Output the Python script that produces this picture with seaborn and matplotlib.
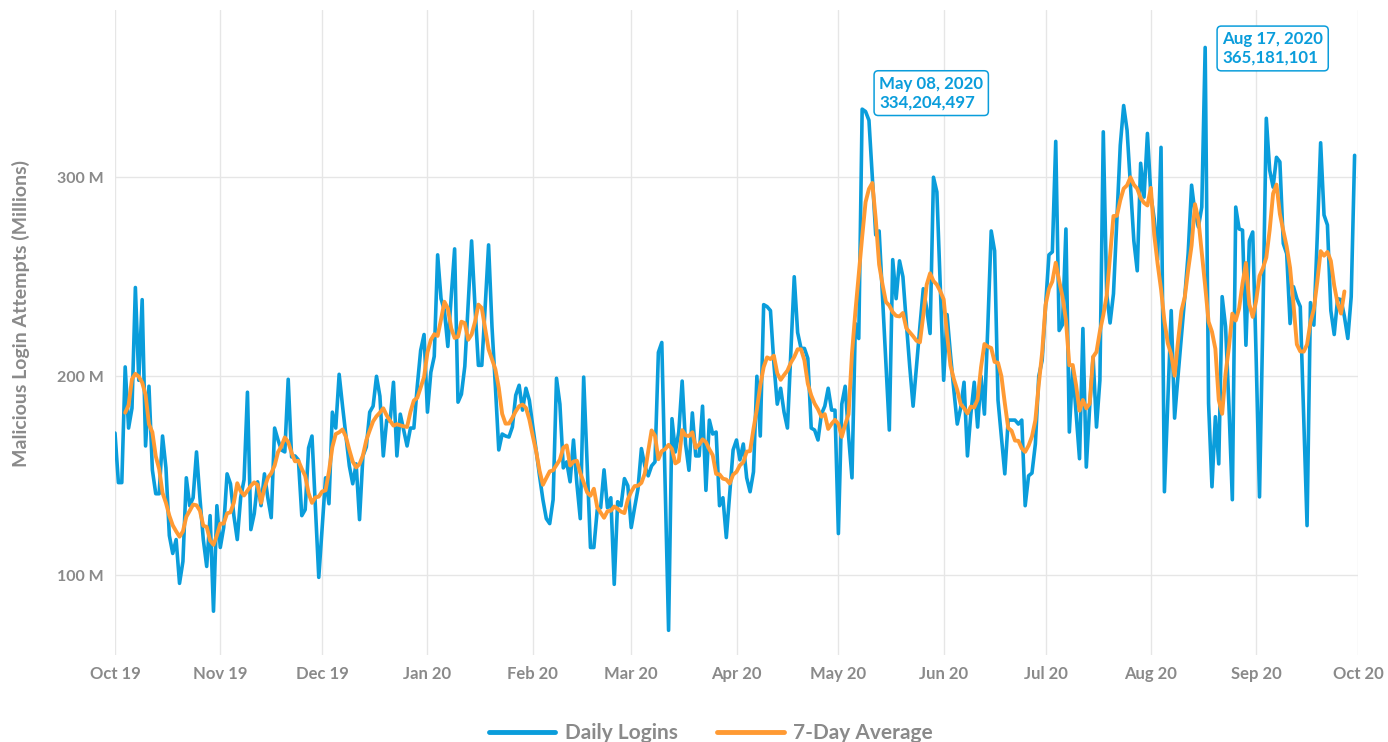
import matplotlib
matplotlib.use("Agg")
import matplotlib.pyplot as plt
import matplotlib.dates as mdates
import seaborn as sns
import pandas as pd
import numpy as np

# ---------------- data (millions of malicious login attempts per day) ----------------
start_date = "2019-10-01"
daily_logins = [
    171.5, 146.6, 146.6, 204.7, 174, 184, 244.6, 198, 238.5, 165,
    195, 153, 141, 141, 170, 154, 120, 111, 118, 96,
    107, 149, 135, 139, 162, 139, 118, 104.5, 130, 82,
    135, 114, 124, 151, 146, 130, 118, 139, 148, 192,
    123, 131, 147, 135, 151, 139, 129, 174, 168, 163,
    162, 198.5, 159.5, 160, 158, 130, 133, 164, 170, 135,
    99, 124, 149, 136, 182, 174, 201, 185, 170, 155,
    146, 156, 128, 160, 164.5, 182, 185, 200, 190, 160,
    178, 177.5, 197, 160, 181, 173, 165, 174, 174, 195,
    213, 221, 182, 202, 210, 261, 239, 233, 215, 240,
    264, 187, 191, 205, 237, 268, 235, 205.5, 205.5, 235,
    266, 225, 195, 163, 171, 170, 169.5, 174.5, 190.5, 195.5,
    183, 194, 188, 175, 163, 150, 138, 128.5, 126, 138,
    199, 186, 154, 157, 147, 168, 146, 128.5, 199.6, 157,
    114, 114, 133, 134, 153, 134, 139, 95.5, 137, 135,
    148.6, 145, 124, 134, 143.6, 163.7, 155, 150, 155, 157,
    212, 217, 145, 72.4, 178.7, 162, 172, 197.6, 166, 152.8,
    181.6, 160, 160, 185, 142.7, 178, 171, 172, 135, 139,
    119, 141, 163, 168, 158, 166, 149, 142, 152, 200,
    170, 236, 235, 233, 206.5, 186, 194, 182, 174, 212,
    250, 222, 214, 214, 209, 174, 173, 168, 181, 185,
    194, 183, 183, 121, 186, 195, 170, 149, 226.5, 219,
    334.204497, 333, 328.6, 300, 271, 273, 240, 207, 173, 258.6,
    239, 258, 250, 227, 205, 185, 205, 225, 244, 234,
    221.5, 300, 292.6, 245, 198, 231, 211, 193, 176, 184,
    197, 160, 181, 197, 174.5, 200, 181, 225, 273, 263,
    188, 169.5, 151, 178, 178, 178, 176, 178, 135, 150,
    151.4, 166, 200, 208, 235, 261, 262.5, 318, 223, 226,
    274, 172, 204, 181, 158.6, 224, 154.4, 185, 209.7, 174.5,
    198, 322.8, 241.5, 226.8, 241.5, 279, 316, 336, 323.6, 296,
    268, 253, 307, 290, 322, 291, 279, 258.6, 315, 142,
    188, 233, 179, 200, 220, 240, 262, 296, 282, 275,
    285, 365.181101, 186.4, 144.5, 179.7, 156, 240, 225, 185, 138,
    285, 274, 273.4, 215.6, 268, 272.5, 210, 139.4, 230, 329.6,
    303.5, 295, 310, 307.7, 266.7, 261.6, 226.5, 245, 239, 235,
    180, 125, 237, 225.7, 270, 317.3, 281, 276, 233, 221,
    239, 238.5, 230, 219, 240, 311,
]
window_days = 7
series_names = ["Daily Logins", "7-Day Average"]
annotated_dates = ["2020-05-08", "2020-08-17"]
y_ticks = [100, 200, 300]
y_label = "Malicious Login Attempts (Millions)"

# ---------------- build table ----------------
dates = pd.date_range(start_date, periods=len(daily_logins), freq="D")
df = pd.DataFrame({"date": dates, "daily": daily_logins})
df["avg"] = df["daily"].rolling(window_days, center=True).mean()

# ---------------- styling ----------------
sns.set_theme(style="white")
plt.rcParams["font.family"] = ["Lato", "DejaVu Sans"]

BLUE = "#0a9ddb"
ORANGE = "#ff9a33"
GREY = "#8a8a8a"
GRID = "#e6e6e6"

fig = plt.figure(figsize=(13.88, 7.42), dpi=100)
ax = fig.add_axes([115 / 1388, 87 / 742, 1243 / 1388, 645 / 742])

sns.lineplot(data=df, x="date", y="daily", ax=ax, color=BLUE, linewidth=2.6,
             label=series_names[0], zorder=3)
sns.lineplot(data=df.dropna(), x="date", y="avg", ax=ax, color=ORANGE, linewidth=2.8,
             label=series_names[1], zorder=4)

ax.set_xlim(pd.Timestamp("2019-10-01"), pd.Timestamp("2020-10-01"))
ax.set_ylim(60, 384)

ax.xaxis.set_major_locator(mdates.MonthLocator())
ax.xaxis.set_major_formatter(mdates.DateFormatter("%b %y"))
ax.set_yticks(y_ticks)
ax.set_yticklabels([f"{v} M" for v in y_ticks])

ax.grid(True, axis="both", color=GRID, linewidth=1)
ax.set_axisbelow(True)
for s in ax.spines.values():
    s.set_visible(False)
ax.tick_params(axis="both", length=0, colors=GREY)
ax.tick_params(axis="x", pad=8, labelsize=12)
ax.tick_params(axis="y", pad=8, labelsize=11.5)
for lab in ax.get_xticklabels() + ax.get_yticklabels():
    lab.set_fontweight("bold")
    lab.set_color(GREY)

ax.set_xlabel("")
ax.set_ylabel(y_label, color=GREY, fontsize=14, fontweight="bold")
ax.yaxis.set_label_coords(-0.0685, 0.53)

# annotations
offsets = {annotated_dates[0]: (17, 16), annotated_dates[1]: (17, -1)}
for d in annotated_dates:
    ts = pd.Timestamp(d)
    val = float(df.loc[df["date"] == ts, "daily"].iloc[0])
    label = f"{ts.strftime('%b %d, %Y')}\n{int(round(val * 1e6)):,}"
    ax.annotate(label, xy=(ts, val), xytext=offsets[d], textcoords="offset pixels",
                ha="left", va="center", color=BLUE, fontsize=12.2, fontweight="bold",
                linespacing=1.2, zorder=6,
                bbox=dict(boxstyle="round,pad=0.3,rounding_size=0.25", fc="white",
                          ec=BLUE, lw=1.1))

# legend
ax.get_legend().remove()
handles, labels = ax.get_legend_handles_labels()
leg = fig.legend(handles, labels, loc="center", bbox_to_anchor=(0.512, 0.012),
                 ncol=2, frameon=False, fontsize=15, handlelength=3.2,
                 columnspacing=1.9, handletextpad=0.45)
for t in leg.get_texts():
    t.set_color(GREY)
    t.set_fontweight("bold")
for h in leg.legend_handles:
    h.set_linewidth(3.5)

fig.savefig("out.png", dpi=100)
